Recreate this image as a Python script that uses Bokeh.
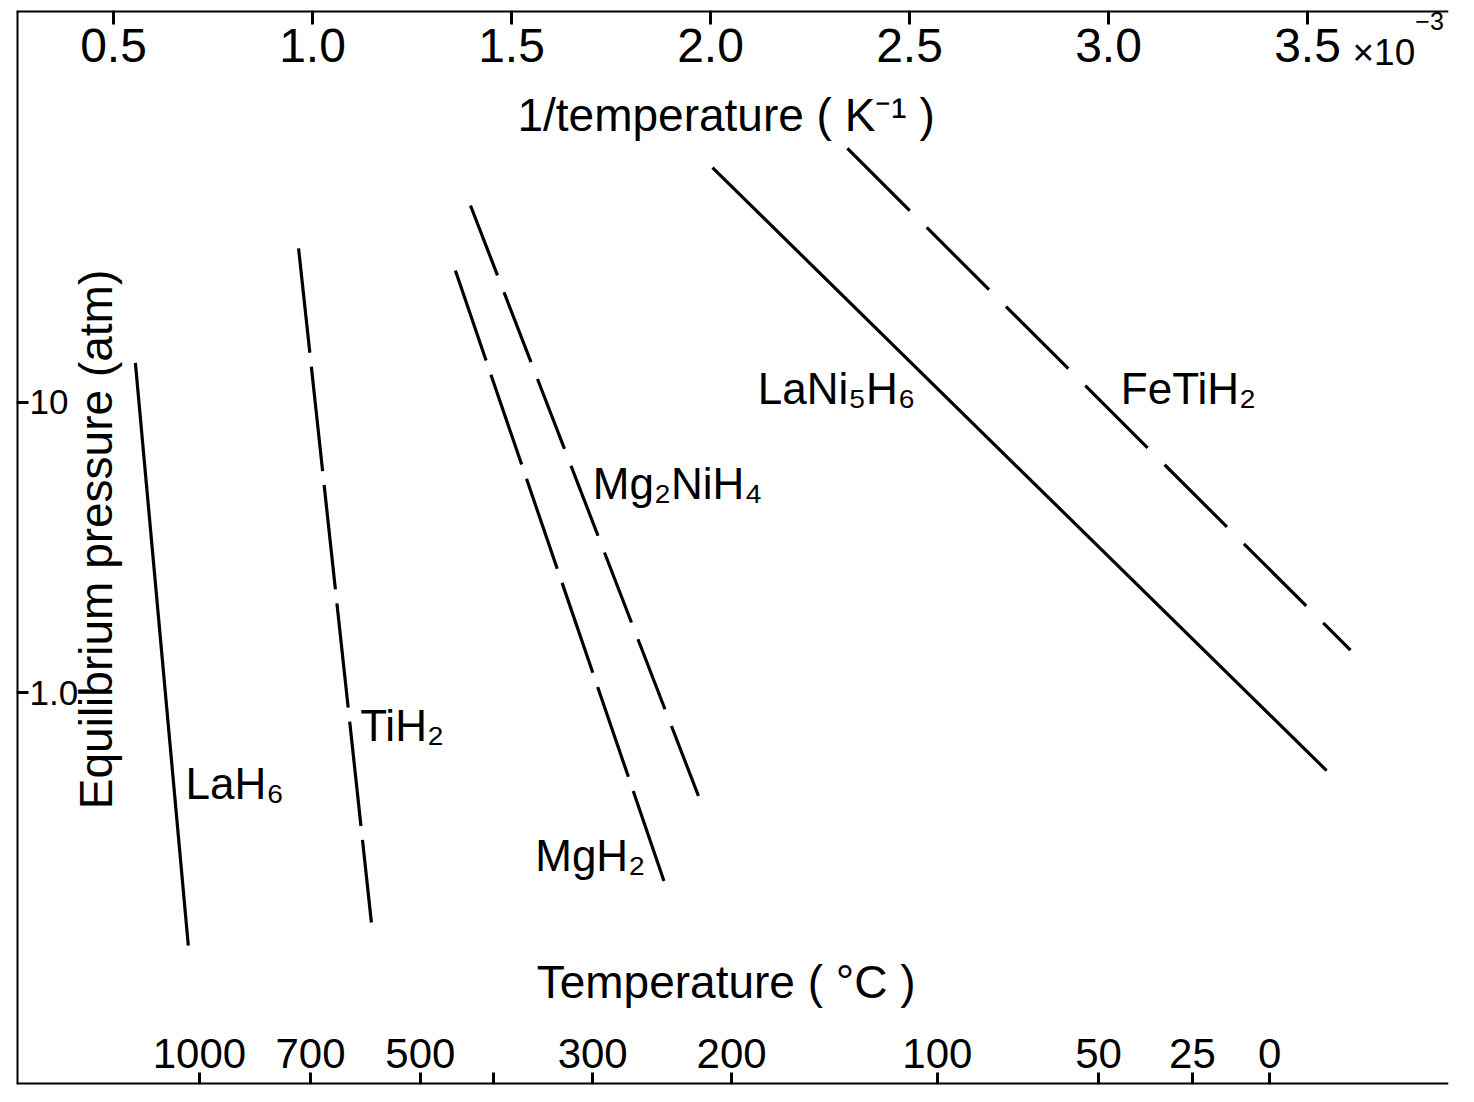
import math
from bokeh.plotting import figure
from bokeh.models import (LinearAxis, LogAxis, FixedTicker, Label, ColumnDataSource, Range1d,
                          PrintfTickFormatter)
from bokeh.embed import file_html
from bokeh.resources import INLINE
from bokeh.core.properties import value

# ---------------- data (1/T in 10^-3 K^-1, pressure in atm) ----------------
hydrides = ["LaH₆", "TiH₂", "MgH₂", "Mg₂NiH₄", "LaNi₅H₆", "FeTiH₂"]
inv_temp_start = [0.555, 0.965, 1.359, 1.397, 2.005, 2.344]
inv_temp_end = [0.688, 1.148, 1.887, 1.982, 3.548, 3.608]
pressure_start = [13.7, 34.0, 28.5, 47.8, 64.5, 75.2]
pressure_end = [0.134, 0.161, 0.216, 0.398, 0.538, 1.40]

inv_temp_ticks = [0.5, 1.0, 1.5, 2.0, 2.5, 3.0, 3.5]
pressure_ticks = [1, 10]
pressure_tick_labels = ["1.0", "10"]
celsius_tick_labels = ["1000", "700", "500", "", "300", "200", "100", "50", "25", "0"]
celsius_tick_pos = [0.716, 0.995, 1.271, 1.455, 1.704, 2.053, 2.570, 2.975, 3.211, 3.405]

# ---------------- styles / layout ----------------
line_dash = ["solid", "105 14", "95 15", "75 18", "solid", "88 24"]
label_frac = [0.722, 0.708, 0.951, 0.461, 0.3665, 0.478]
label_dx = [12, 10, -10, 15, -22, 33]
label_align = ["left", "left", "right", "left", "right", "left"]

FONT = "Liberation Sans"

X0, X1 = 0.2563, 3.8543
Y0, Y1 = 10 ** -1.3517, 10 ** 2.3517

p = figure(width=1458, height=1086, x_range=Range1d(X0, X1), y_range=Range1d(Y0, Y1),
           y_axis_type="log", x_axis_location=None, y_axis_location=None,
           toolbar_location=None, output_backend="svg",
           min_border_left=16, min_border_right=10, min_border_top=10, min_border_bottom=2)
p.outline_line_color = None
p.background_fill_color = "white"
p.border_fill_color = "white"
p.xgrid.grid_line_color = None
p.ygrid.grid_line_color = None


def style(ax, tick_out, label_size):
    ax.axis_line_width = 4
    ax.axis_line_color = "black"
    ax.major_tick_line_width = 3
    ax.major_tick_line_color = "black"
    ax.major_tick_out = tick_out
    ax.major_tick_in = 0
    ax.minor_tick_out = 0
    ax.minor_tick_in = 0
    ax.major_label_text_font = FONT
    ax.major_label_text_font_size = label_size
    ax.major_label_text_color = "black"
    ax.axis_label_text_font = FONT
    ax.axis_label_text_font_size = "46px"
    ax.axis_label_text_font_style = "normal"
    ax.axis_label_text_color = "black"


top_axis = LinearAxis(fixed_location=Y1,
                      ticker=FixedTicker(ticks=inv_temp_ticks, minor_ticks=[]),
                      formatter=PrintfTickFormatter(format="%.1f"),
                      axis_label="1/temperature  ( K⁻¹ )")
style(top_axis, 14, "48px")
top_axis.major_label_standoff = 4
top_axis.axis_label_standoff = 24
p.add_layout(top_axis, "below")

left_axis = LogAxis(fixed_location=X0,
                    ticker=FixedTicker(ticks=pressure_ticks, minor_ticks=[]),
                    major_label_overrides=dict(zip(pressure_ticks, pressure_tick_labels)))
style(left_axis, 12, "35px")
left_axis.major_label_standoff = 1
p.add_layout(left_axis, "right")

bottom_axis = LinearAxis(fixed_location=Y0,
                         ticker=FixedTicker(ticks=celsius_tick_pos, minor_ticks=[]),
                         major_label_overrides=dict(zip(celsius_tick_pos, celsius_tick_labels)),
                         axis_label="Temperature  ( °C )")
style(bottom_axis, 12, "42px")
bottom_axis.major_label_standoff = 5
bottom_axis.axis_label_standoff = 28
p.add_layout(bottom_axis, "above")

p.add_layout(Label(x=X0, y=3.37, x_offset=79, text="Equilibrium pressure (atm)",
                   angle=math.pi / 2, text_align="center", text_baseline="middle",
                   text_font=FONT, text_font_size="46px", text_color="black"))
p.add_layout(Label(x=3.613, y=190.0, text="×10", text_align="left", text_baseline="top",
                   text_font=FONT, text_font_size="37px", text_color="black"))
p.add_layout(Label(x=3.771, y=222.0, text="−3", text_align="left", text_baseline="top",
                   text_font=FONT, text_font_size="25px", text_color="black"))

# curves
for i in range(len(hydrides)):
    p.line([inv_temp_start[i], inv_temp_end[i]], [pressure_start[i], pressure_end[i]],
           line_color="black", line_width=3.2, line_dash=line_dash[i])

# curve labels, anchored on the curves
lx, ly = [], []
for i in range(len(hydrides)):
    t = label_frac[i]
    lx.append(inv_temp_start[i] + t * (inv_temp_end[i] - inv_temp_start[i]))
    l0, l1 = math.log10(pressure_start[i]), math.log10(pressure_end[i])
    ly.append(10 ** (l0 + t * (l1 - l0)))

for align in ("left", "right"):
    idx = [i for i in range(len(hydrides)) if label_align[i] == align]
    src = ColumnDataSource(dict(x=[lx[i] for i in idx], y=[ly[i] for i in idx],
                                text=[hydrides[i] for i in idx], dx=[label_dx[i] for i in idx]))
    p.text(x="x", y="y", text="text", x_offset="dx", source=src, text_align=align,
           text_baseline="alphabetic", text_font=value(FONT), text_font_size="44px",
           text_color="black")

open("out.html", "w").write(file_html(p, INLINE))
